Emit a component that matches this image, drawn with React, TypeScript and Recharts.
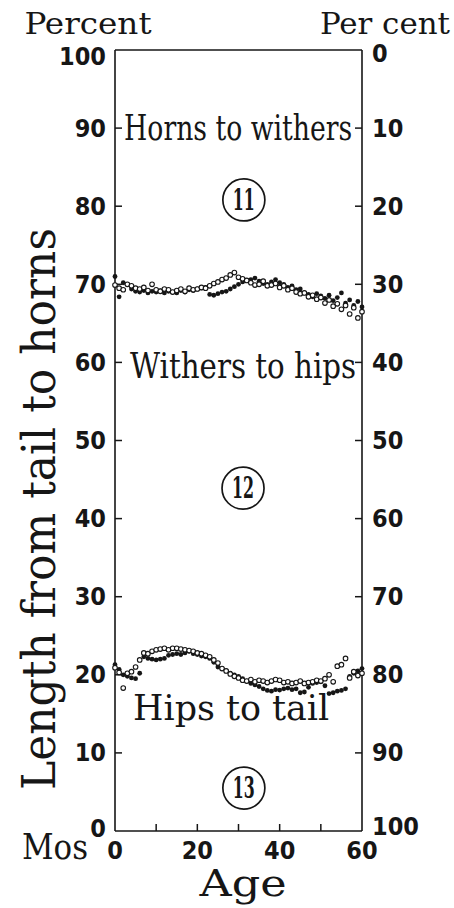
import React from 'react';
import { ComposedChart, Scatter, XAxis, YAxis, ReferenceLine, ReferenceDot } from 'recharts';

// months of age
const ages = [
  0, 1, 2, 3, 4, 5, 6, 7, 8, 9, 10, 11, 12, 13, 14, 15, 16, 17, 18, 19, 20,
  21, 22, 23, 24, 25, 26, 27, 28, 29, 30, 31, 32, 33, 34, 35, 36, 37, 38, 39, 40,
  41, 42, 43, 44, 45, 46, 47, 48, 49, 50, 51, 52, 53, 54, 55, 56, 57, 58, 59, 60,
];

// boundary between withers-to-hips and horns-to-withers (percent from tail)
const withersOpen = [
  69.9, 69.5, 69.3, 70.0, 69.8, 69.5, 69.4, 69.6, 69.2, 70.0,
  69.3, 69.1, 69.4, 69.3, 69.0, 69.2, 69.4, 69.1, 69.5, 69.3,
  69.4, 69.6, 69.5, 69.8, 70.1, 70.3, 70.6, 70.8, 71.2, 71.5,
  70.9, 70.7, 70.5, 70.2, 69.9, 70.0, 70.4, 69.8, 69.9, 70.1,
  69.6, 69.8, 69.3, 69.5, 69.0, 68.8, 68.9, 68.4, 68.6, 68.1,
  68.3, 67.6, 68.0, 67.2, 67.5, 66.8, 67.3, 66.2, 67.0, 65.7, 66.5,
];
const withersFilled = [
  71.0, 68.4, 70.2, 70.0, 69.4, 69.1, 69.0, 69.2, 68.9, 69.1,
  69.0, 69.2, 68.9, 69.1, 69.0, 68.9, 69.2, 69.0, 69.3, 69.2,
  69.4, 69.5, 69.6, 68.7, 68.6, 68.8, 69.0, 69.1, 69.4, 69.7,
  70.0, 70.3, 70.5, 70.6, 70.8, 70.4, 70.1, 70.0, 70.3, 70.6,
  70.2, 70.0, 69.6, 69.8, 69.3, 69.4, 68.9, 68.7, 68.4, 68.8,
  68.5, 68.2, 68.6, 67.9, 68.3, 68.9, 67.6, 68.0, 67.3, 67.8, 67.1,
];

// boundary between hips-to-tail and withers-to-hips
const hipsOpen = [
  20.9, 20.3, 18.3, 20.2, 20.4, 21.0, 21.9, 22.8, 22.7, 23.0,
  23.2, 23.3, 23.4, 23.2, 23.4, 23.4, 23.3, 23.2, 23.1, 23.0,
  22.8, 22.7, 22.5, 22.3, 21.9, 21.5, 20.8, 20.5, 20.1, 19.8,
  19.6, 19.3, 19.2, 19.4, 19.1, 19.3, 19.2, 19.0, 19.2, 19.4,
  19.3, 19.0, 19.1, 18.9, 19.0, 19.2, 18.9, 19.0, 19.1, 19.3,
  19.2, 19.5, 20.0, 19.1, 21.1, 21.3, 22.1, 19.6, 20.4, 19.9, 20.2,
];
const hipsFilled = [
  21.3, 20.7, 20.0, 19.8, 19.6, 19.5, 20.2, 22.3, 22.1, 22.0,
  21.9, 22.0, 22.1, 22.5, 22.6, 22.7, 22.6, 22.8, 23.0, 22.7,
  22.6, 22.4, 22.3, 22.1, 21.6, 21.0, 20.8, 20.5, 20.2, 20.0,
  19.8, 19.5, 19.2, 18.9, 18.7, 18.5, 18.2, 18.0, 17.9, 18.1,
  18.05, 18.2, 18.3, 18.1, 18.2, 17.7, 17.8, 18.4, 18.9, 19.0,
  19.1, 18.6, 17.6, 17.7, 17.9, 18.0, 18.2, 19.8, 20.2, 20.5, 20.8,
];

const xTicks = [0, 10, 20, 30, 40, 50, 60];
const yTicks = [0, 10, 20, 30, 40, 50, 60, 70, 80, 90, 100];
const xMinor = [10, 20, 30, 40, 50];
const yMinor = [10, 20, 30, 40, 50, 60, 70, 80, 90];

const INK = '#161616';
const numFont = '"DejaVu Sans Condensed", "DejaVu Sans", sans-serif';
const letterFont = '"DejaVu Serif Condensed", "DejaVu Serif", serif';

const toPoints = (vals: number[]) => vals.map((v, i) => ({ age: ages[i], v }));

const openDot = (p: any) => (
  <circle cx={p.cx} cy={p.cy} r={2.3} fill="#fff" stroke={INK} strokeWidth={1.1} />
);
const filledDot = (p: any) => <circle cx={p.cx} cy={p.cy} r={2.4} fill={INK} />;

const leftTick = (p: any) => (
  <text x={p.x} y={p.y} dy={p.payload.value === 100 ? 6 : p.payload.value === 0 ? -3 : 0}
    textAnchor="end" dominantBaseline="central" fontFamily={numFont} fontSize={25}
    fontWeight={600} fill={INK}>
    {p.payload.value}
  </text>
);
const rightTick = (p: any) => (
  <text x={p.x} y={p.y} dy={p.payload.value === 100 ? -5 : p.payload.value === 0 ? 3 : 0}
    textAnchor="start" dominantBaseline="central" fontFamily={numFont} fontSize={25}
    fontWeight={600} fill={INK}>
    {p.payload.value}
  </text>
);
const bottomTick = (p: any) => (
  <text x={p.x} y={p.y} dy={8} textAnchor="middle" dominantBaseline="central"
    fontFamily={numFont} fontSize={25} fontWeight={600} fill={INK}>
    {p.payload.value % 20 === 0 ? p.payload.value : ''}
  </text>
);

// hand-lettered region names: a little taller than the font's natural shape
const wordLabel = (text: string, width: number) => (props: any) => {
  const vb = props.viewBox;
  const cx = vb.x + vb.width / 2;
  const cy = vb.y + vb.height / 2;
  return (
    <text transform={`translate(${cx} ${cy}) scale(1 1.22)`} x={0} y={0} textAnchor="middle"
      fontFamily={letterFont} fontSize={29} fill={INK} textLength={width}
      lengthAdjust="spacingAndGlyphs">
      {text}
    </text>
  );
};
const numLabel = (text: string) => (props: any) => {
  const vb = props.viewBox;
  return (
    <text x={vb.x + vb.width / 2} y={vb.y + vb.height / 2} textAnchor="middle"
      dominantBaseline="central" fontFamily={letterFont} fontSize={29} fontWeight="bold"
      fill={INK} textLength={22} lengthAdjust="spacingAndGlyphs">
      {text}
    </text>
  );
};

export default function App() {
  const axisStroke = { stroke: INK, strokeWidth: 1.6 };
  const tickStroke = { stroke: INK, strokeWidth: 1.5 };
  return (
    <div style={{ position: 'absolute', left: 0, top: 0, background: '#fff' }}>
      <ComposedChart width={454} height={908} margin={{ top: 50, right: 0, bottom: 0, left: 0 }}>
        <XAxis dataKey="age" type="number" domain={[0, 60]} ticks={xTicks} interval={0}
          height={77} tickSize={0} tickMargin={11} axisLine={axisStroke} tickLine={false}
          tick={bottomTick} />
        <YAxis yAxisId="left" dataKey="v" type="number" domain={[0, 100]} ticks={yTicks}
          interval={0} width={115} tickSize={0} tickMargin={9} axisLine={axisStroke}
          tickLine={false} tick={leftTick} />
        <YAxis yAxisId="right" orientation="right" type="number" domain={[0, 100]} reversed
          allowDataOverflow ticks={yTicks} interval={0} width={92} tickSize={0} tickMargin={10}
          axisLine={axisStroke} tickLine={false} tick={rightTick} />
        <ReferenceLine yAxisId="left" y={100} stroke={INK} strokeWidth={1.6} />

        {/* inward tick marks */}
        {yMinor.map((t) => (
          <ReferenceLine key={'l' + t} yAxisId="left" segment={[{ x: 0, y: t }, { x: 1.7, y: t }]} {...tickStroke} />
        ))}
        {yMinor.map((t) => (
          <ReferenceLine key={'r' + t} yAxisId="left" segment={[{ x: 58.3, y: t }, { x: 60, y: t }]} {...tickStroke} />
        ))}
        {xMinor.map((t) => (
          <ReferenceLine key={'b' + t} yAxisId="left" segment={[{ x: t, y: 0 }, { x: t, y: 0.9 }]} {...tickStroke} />
        ))}

        <Scatter yAxisId="left" data={toPoints(withersFilled)} shape={filledDot} isAnimationActive={false} />
        <Scatter yAxisId="left" data={toPoints(withersOpen)} shape={openDot} isAnimationActive={false} />
        <Scatter yAxisId="left" data={toPoints(hipsFilled)} shape={filledDot} isAnimationActive={false} />
        <Scatter yAxisId="left" data={toPoints(hipsOpen)} shape={openDot} isAnimationActive={false} />

        <ReferenceDot yAxisId="left" x={29.9} y={88.5} r={0} fill="none" stroke="none"
          label={{ content: wordLabel('Horns to withers', 228) }} />
        <ReferenceDot yAxisId="left" x={31.1} y={58.0} r={0} fill="none" stroke="none"
          label={{ content: wordLabel('Withers to hips', 226) }} />
        <ReferenceDot yAxisId="left" x={28.2} y={14.2} r={0} fill="none" stroke="none"
          label={{ content: wordLabel('Hips to tail', 196) }} />

        <ReferenceDot yAxisId="left" x={31.3} y={80.8} r={21} fill="none" stroke={INK} strokeWidth={1.7}
          label={{ content: numLabel('11') }} />
        <ReferenceDot yAxisId="left" x={31.1} y={43.9} r={21} fill="none" stroke={INK} strokeWidth={1.7}
          label={{ content: numLabel('12') }} />
        <ReferenceDot yAxisId="left" x={31.3} y={5.5} r={21} fill="none" stroke={INK} strokeWidth={1.7}
          label={{ content: numLabel('13') }} />

        <text x={88} y={34} textAnchor="middle" fontFamily={letterFont} fontSize={29} fill={INK}
          textLength={127} lengthAdjust="spacingAndGlyphs">Percent</text>
        <text x={385} y={34} textAnchor="middle" fontFamily={letterFont} fontSize={29} fill={INK}
          textLength={130} lengthAdjust="spacingAndGlyphs">Per cent</text>
        <text x={55} y={509} transform="rotate(-90 55 509)" textAnchor="middle" fontFamily={letterFont}
          fontSize={46} fill={INK} textLength={562} lengthAdjust="spacingAndGlyphs">
          Length from tail to horns
        </text>
        <text x={55} y={859} textAnchor="middle" fontFamily={letterFont} fontSize={36} fill={INK}
          textLength={66} lengthAdjust="spacingAndGlyphs">Mos</text>
        <text x={243} y={896} textAnchor="middle" fontFamily={letterFont} fontSize={38} fill={INK}
          textLength={87} lengthAdjust="spacingAndGlyphs">Age</text>
      </ComposedChart>
    </div>
  );
}
